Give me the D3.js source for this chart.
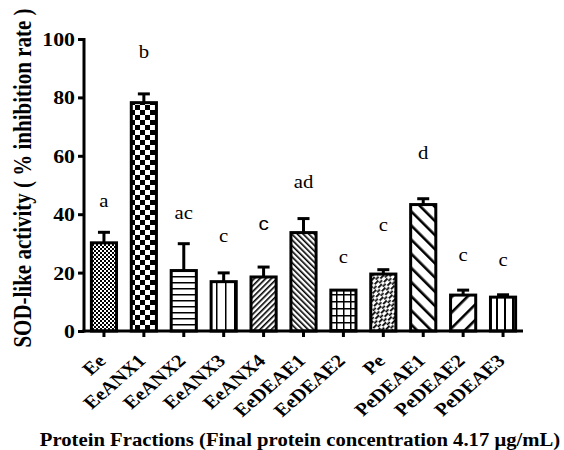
<!DOCTYPE html>
<html>
<head>
<meta charset="utf-8">
<script src="https://cdn.jsdelivr.net/npm/d3@7"></script>
<style>
  body { margin: 0; background: #fff; }
  svg { display: block; }
  text { font-family: "Liberation Serif", "Times New Roman", serif; fill: #000; }
</style>
</head>
<body>
<div id="chart"></div>
<script>
// data
var categories = ['Ee', 'EeANX1', 'EeANX2', 'EeANX3', 'EeANX4', 'EeDEAE1',
    'EeDEAE2', 'Pe', 'PeDEAE1', 'PeDEAE2', 'PeDEAE3'];
var means = [30.2, 78.2, 20.7, 16.9, 18.5, 33.7, 14.0, 19.5, 43.3, 12.3, 11.6];
var errors = [3.6, 3.0, 9.2, 3.0, 3.4, 4.8, 0, 1.5, 2.0, 1.7, 0.8];
var letters = ['a', 'b', 'ac', 'c', 'c', 'ad', 'c', 'c', 'd', 'c', 'c'];
var letterLevels = [42.5, 93.5, 38.4, 30.5, 34.6, 49, 23.4, 34.2, 58.9, 24, 22.3];
var yTicks = [0, 20, 40, 60, 80, 100];
var patternIds = ['fineCheck', 'bigCheck', 'hLines', 'vWide', 'diagUpFine',
    'diagDownFine', 'grid', 'brick', 'diagDownWide', 'diagUpWide', 'vNarrow'];

var width = 564, height = 450;
var margin = {top: 39, left: 84, right: 41, bottom: 119};
var stretch = 1.15; // the figure's text is a bit wider than plain Times

var svg = d3.select('#chart').append('svg')
    .attr('width', width)
    .attr('height', height);

var defs = svg.append('defs');

function addPattern(id, size, rot){
    var p = defs.append('pattern')
        .attr('id', id)
        .attr('patternUnits', 'userSpaceOnUse')
        .attr('width', size[0])
        .attr('height', size[1]);
    if(rot){
        p.attr('patternTransform', 'rotate(' + rot + ')');
    }
    p.append('rect').attr('width', size[0]).attr('height', size[1])
        .attr('fill', '#fff');
    return p;
}

var p;
p = addPattern('fineCheck', [4, 4]);
p.append('rect').attr('width', 2).attr('height', 2).attr('fill', '#000');
p.append('rect').attr('x', 2).attr('y', 2).attr('width', 2).attr('height', 2)
    .attr('fill', '#000');

p = addPattern('bigCheck', [10, 10]);
p.append('rect').attr('width', 5).attr('height', 5).attr('fill', '#000');
p.append('rect').attr('x', 5).attr('y', 5).attr('width', 5).attr('height', 5)
    .attr('fill', '#000');

p = addPattern('hLines', [6, 6]);
p.append('rect').attr('y', 0).attr('width', 6).attr('height', 1.5).attr('fill', '#000');

p = addPattern('vWide', [9, 9]);
p.append('rect').attr('x', 0).attr('width', 1.5).attr('height', 9).attr('fill', '#000');

p = addPattern('diagUpFine', [4, 4], 45);
p.append('rect').attr('width', 1.6).attr('height', 4).attr('fill', '#000');

p = addPattern('diagDownFine', [4, 4], -45);
p.append('rect').attr('width', 1.6).attr('height', 4).attr('fill', '#000');

p = addPattern('grid', [7, 7]);
p.append('rect').attr('width', 1.5).attr('height', 7).attr('fill', '#000');
p.append('rect').attr('width', 7).attr('height', 1.5).attr('fill', '#000');

p = addPattern('brick', [8, 5], -45);
p.append('rect').attr('x', 0).attr('y', 0).attr('width', 5).attr('height', 1.8)
    .attr('fill', '#000');
p.append('rect').attr('x', 4).attr('y', 2.5).attr('width', 5).attr('height', 1.8)
    .attr('fill', '#000');

p = addPattern('diagDownWide', [10, 10], -45);
p.append('rect').attr('width', 2.6).attr('height', 10).attr('fill', '#000');

p = addPattern('diagUpWide', [11, 11], 45);
p.append('rect').attr('width', 2.6).attr('height', 11).attr('fill', '#000');

p = addPattern('vNarrow', [8, 8]);
p.append('rect').attr('x', 0).attr('width', 2).attr('height', 8).attr('fill', '#000');

var x = d3.scaleBand()
    .domain(categories)
    .range([margin.left, width - margin.right])
    .paddingInner(0.37)
    .paddingOuter(0.185);

var y = d3.scaleLinear()
    .domain([0, 100])
    .range([height - margin.bottom, margin.top]);

var y0 = y(0);

// bars
svg.append('g').selectAll('rect')
    .data(categories)
    .enter().append('rect')
    .attr('x', function(d){ return x(d); })
    .attr('y', function(d, i){ return y(means[i]); })
    .attr('width', x.bandwidth())
    .attr('height', function(d, i){ return y0 - y(means[i]); })
    .attr('fill', function(d, i){ return 'url(#' + patternIds[i] + ')'; })
    .attr('stroke', '#000')
    .attr('stroke-width', 3);

// error bars (upper only)
var err = svg.append('g')
    .attr('stroke', '#000')
    .attr('stroke-width', 3);
categories.forEach(function(c, i){
    if(errors[i] <= 0) return;
    var cx = x(c) + x.bandwidth() / 2;
    err.append('line')
        .attr('x1', cx).attr('x2', cx)
        .attr('y1', y(means[i])).attr('y2', y(means[i] + errors[i]));
    err.append('line')
        .attr('x1', cx - 6).attr('x2', cx + 6)
        .attr('y1', y(means[i] + errors[i])).attr('y2', y(means[i] + errors[i]));
});

// significance letters
svg.append('g').selectAll('text')
    .data(categories)
    .enter().append('text')
    .attr('transform', function(d, i){
        return 'translate(' + (x(d) + x.bandwidth() / 2) + ',' +
            y(letterLevels[i]) + ') scale(' + stretch + ',1)';
    })
    .attr('text-anchor', 'middle')
    .style('font-size', '18px')
    .style('font-family', function(d, i){
        return i === 4 ? '"Liberation Sans", Arial, sans-serif' : null;
    })
    .text(function(d, i){ return letters[i]; });

// axes
var yAxis = svg.append('g')
    .attr('transform', 'translate(' + margin.left + ',0)')
    .call(d3.axisLeft(y).tickValues(yTicks).tickSize(6).tickSizeOuter(0)
        .tickPadding(2));
var xAxis = svg.append('g')
    .attr('transform', 'translate(0,' + y0 + ')')
    .call(d3.axisBottom(x).tickSize(6).tickSizeOuter(0));

[yAxis, xAxis].forEach(function(ax){
    ax.select('.domain').attr('stroke-width', 3).attr('stroke', '#000');
    ax.selectAll('.tick line').attr('stroke-width', 3).attr('stroke', '#000');
});
yAxis.select('.domain').attr('d', 'M0,' + (margin.top - 1) + 'V' + (y0 + 1.5));
xAxis.select('.domain').attr('d', 'M' + (margin.left - 1.5) + ',0H' + (width - margin.right));

yAxis.selectAll('.tick text')
    .style('font-family', '"Liberation Serif", serif')
    .style('font-size', '19px')
    .style('font-weight', 'bold')
    .attr('x', 0)
    .attr('dy', '0.34em')
    .attr('transform', 'translate(-9,0) scale(' + stretch + ',1)');

xAxis.selectAll('.tick text')
    .style('font-family', '"Liberation Serif", serif')
    .style('font-size', '18px')
    .style('font-weight', 'bold')
    .attr('text-anchor', 'end')
    .attr('x', 0).attr('y', 0).attr('dy', 0)
    .attr('transform', 'translate(3,31) scale(' + stretch + ',1) rotate(-45)');

// axis titles
svg.append('text')
    .attr('transform', 'translate(31,178) scale(' + stretch + ',1) rotate(-90)')
    .attr('text-anchor', 'middle')
    .style('font-family', '"Liberation Serif", serif')
    .style('font-size', '21px')
    .style('font-weight', 'bold')
    .text('SOD-like activity ( % inhibition rate )');

svg.append('text')
    .attr('transform', 'translate(300,446) scale(' + stretch + ',1)')
    .attr('text-anchor', 'middle')
    .style('font-family', '"Liberation Serif", serif')
    .style('font-size', '18px')
    .style('font-weight', 'bold')
    .text('Protein Fractions (Final protein concentration 4.17 \u03bcg/mL)');
</script>
</body>
</html>
